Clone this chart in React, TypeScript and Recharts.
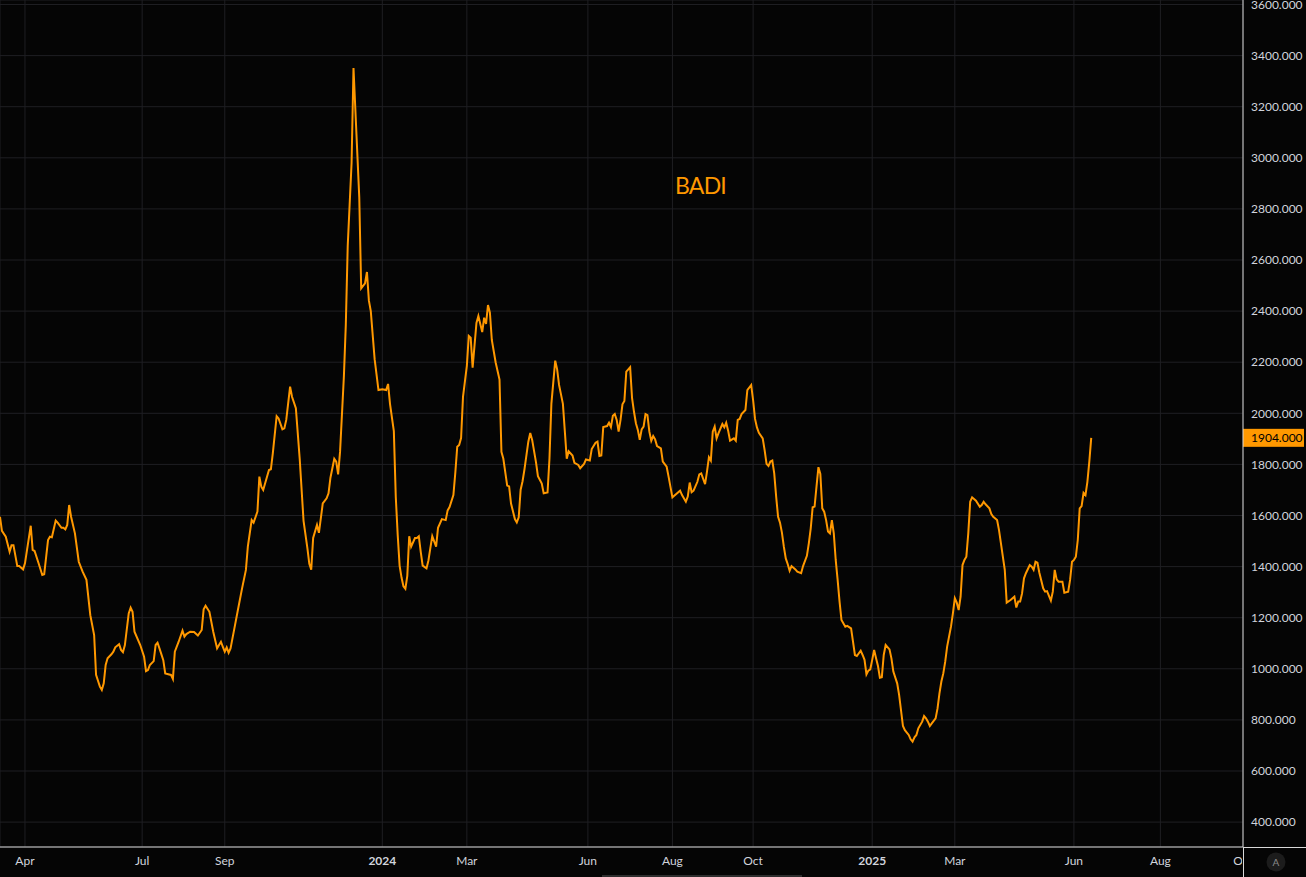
import React from 'react';
import { LineChart, Line, XAxis, YAxis, CartesianGrid, ReferenceLine } from 'recharts';

// trading-day index (0 = left edge of the view) and BDI close
const DAYS = [
  0, 1, 3, 5, 6, 7, 9, 10, 12, 13, 16, 17, 18, 20, 22, 23, 25, 26, 27, 29, 30, 32, 33, 34, 35, 36, 37, 39,
  41, 43, 45, 47, 49, 50, 52, 53, 54, 55, 56, 58, 59, 60, 62, 63, 64, 65, 67, 68, 69, 70, 73, 75, 76, 77,
  78, 80, 81, 82, 83, 85, 86, 89, 90, 91, 93, 95, 96, 97, 99, 101, 103, 105, 106, 107, 109, 111, 113, 115,
  116, 117, 118, 119, 120, 122, 124, 126, 128, 129, 131, 132, 134, 135, 136, 137, 140, 141, 142, 144, 145,
  147, 148, 149, 151, 152, 154, 156, 158, 160, 161, 162, 163, 165, 166, 168, 170, 171, 172, 174, 175, 176,
  177, 179, 180, 181, 183, 184, 185, 187, 188, 190, 191, 192, 193, 195, 197, 199, 201, 202, 203, 205, 206,
  207, 208, 209, 210, 211, 212, 213, 214, 216, 217, 218, 219, 220, 222, 223, 224, 225, 227, 228, 230, 232,
  233, 234, 236, 237, 238, 239, 240, 241, 243, 244, 245, 246, 247, 248, 249, 251, 252, 253, 254, 255, 256,
  258, 260, 261, 262, 264, 265, 266, 268, 269, 270, 271, 272, 273, 275, 276, 277, 279, 280, 282, 283, 285,
  286, 287, 289, 290, 291, 293, 294, 295, 296, 298, 299, 301, 302, 304, 305, 307, 308, 310, 311, 312, 313,
  314, 316, 317, 318, 319, 320, 321, 322, 323, 324, 325, 326, 328, 329, 330, 331, 332, 333, 334, 335, 336,
  337, 338, 339, 340, 341, 342, 344, 345, 347, 348, 350, 352, 354, 355, 357, 358, 359, 360, 361, 363, 364,
  365, 367, 368, 369, 370, 371, 372, 373, 374, 376, 377, 378, 379, 380, 382, 383, 384, 385, 386, 388, 389,
  391, 392, 393, 394, 395, 397, 398, 399, 400, 401, 402, 403, 404, 405, 406, 407, 408, 409, 410, 411, 412,
  414, 415, 417, 418, 420, 421, 422, 423, 424, 425, 426, 427, 428, 429, 430, 431, 432, 433, 434, 435, 436,
  437, 438, 440, 441, 443, 444, 445, 446, 448, 449, 450, 451, 452, 453, 454, 455, 456, 457, 458, 459, 460,
  461, 463, 464, 465, 467, 468, 470, 471, 473, 474, 475, 476, 477, 478, 480, 481, 482, 483, 484, 485, 487,
  488, 489, 490, 491, 492, 493, 495, 496, 497, 498, 499, 500, 501, 502, 503, 504, 505, 506, 508, 510, 511,
  512, 513, 515, 516, 517, 519, 520, 521, 523, 524, 526, 528, 529, 530, 531, 532, 533, 534, 536, 537, 538,
  539, 540, 541, 543, 544, 545, 547, 548, 549, 550, 551, 552, 553, 554, 556, 557, 558, 559, 560, 561, 562,
  563, 564, 565, 566, 567, 568,
];

const BADI = [
  1595, 1540, 1517, 1458, 1484, 1484, 1402, 1402, 1389, 1413, 1560, 1465, 1461, 1415, 1367, 1370, 1504, 1517, 1515, 1580, 1572, 1552, 1552, 1546, 1563, 1641, 1595, 1530,
  1419, 1380, 1348, 1210, 1132, 976, 930, 917, 943, 1015, 1041, 1057, 1067, 1084, 1096, 1074, 1065, 1093, 1217, 1239, 1223, 1145, 1093, 1047, 991, 995,
  1015, 1030, 1093, 1102, 1080, 1034, 982, 976, 960, 1067, 1106, 1149, 1126, 1136, 1145, 1144, 1130, 1152, 1233, 1247, 1223, 1145, 1080, 1106,
  1086, 1067, 1084, 1063, 1080, 1158, 1237, 1315, 1387, 1478, 1582, 1572, 1615, 1752, 1713, 1700, 1778, 1781, 1843, 1989, 1980,
  1937, 1941, 1974, 2104, 2065, 2020, 1822, 1579, 1472, 1411, 1388, 1512, 1563, 1532, 1647, 1667, 1687, 1748, 1822, 1811, 1761,
  1849, 2145, 2347, 2657, 2980, 3351, 3183, 2846, 2489, 2509, 2553, 2442, 2400, 2212, 2091, 2094, 2091, 2115, 2037, 1930, 1674,
  1525, 1404, 1357, 1323, 1313, 1364, 1519, 1478, 1512, 1512, 1519, 1458, 1404, 1393, 1424, 1472, 1519, 1478, 1552, 1586, 1582,
  1620, 1633, 1680, 1768, 1869, 1876, 1903, 2064, 2186, 2303, 2296, 2179, 2266, 2354, 2381, 2318, 2374, 2350, 2424, 2394, 2287,
  2199, 2132, 1849, 1822, 1717, 1714, 1647, 1586, 1573, 1593, 1701, 1734, 1781, 1889, 1923, 1896, 1808, 1754, 1725, 1687, 1690,
  1822, 2037, 2206, 2172, 2111, 2037, 1930, 1822, 1851, 1835, 1806, 1798, 1785, 1802, 1819, 1815, 1860, 1885, 1889, 1833, 1835,
  1946, 1950, 1963, 1946, 1990, 1997, 1974, 1928, 1974, 2035, 2048, 2163, 2180, 2059, 2006, 1961, 1935, 1896, 1937, 1948, 1997,
  1993, 1928, 1892, 1911, 1898, 1872, 1863, 1811, 1791, 1752, 1671, 1684, 1697, 1680, 1654, 1674, 1729, 1691, 1697, 1732, 1761,
  1765, 1723, 1772, 1828, 1815, 1928, 1948, 1902, 1922, 1958, 1945, 1963, 1932, 1893, 1902, 1893, 1974, 1978, 1997, 2013, 2091,
  2111, 2052, 1978, 1945, 1924, 1902, 1856, 1802, 1794, 1811, 1815, 1765, 1674, 1595, 1572, 1533, 1478, 1432, 1410, 1384, 1402,
  1389, 1380, 1374, 1402, 1442, 1491, 1550, 1632, 1635, 1713, 1789, 1763, 1628, 1615, 1582, 1537, 1530, 1582, 1530, 1426, 1348,
  1263, 1191, 1165, 1168, 1158, 1106, 1054, 1050, 1071, 1054, 1035, 978, 993, 998, 1035, 1074, 1041, 1011, 965, 967, 1054,
  1093, 1076, 1041, 989, 943, 898, 776, 760, 741, 724, 715, 732, 741, 767, 793, 815, 806, 793, 776, 786, 806,
  845, 904, 950, 982, 1028, 1087, 1165, 1217, 1276, 1259, 1230, 1282, 1406, 1426, 1439, 1530, 1654, 1671, 1658, 1634, 1641,
  1654, 1644, 1628, 1606, 1595, 1582, 1543, 1491, 1387, 1259, 1269, 1282, 1240, 1263, 1263, 1295, 1354, 1374, 1406, 1400, 1387,
  1419, 1415, 1376, 1315, 1302, 1304, 1267, 1302, 1387, 1350, 1341, 1341, 1341, 1298, 1302, 1348, 1419, 1426, 1439, 1504, 1628,
  1637, 1689, 1680, 1732, 1811, 1904,
];

const TICK_DAYS = [13, 74, 117, 199, 243, 306, 350, 392, 454, 497, 559, 604, 647];
const TICK_LABELS = ['Apr', 'Jul', 'Sep', '2024', 'Mar', 'Jun', 'Aug', 'Oct', '2025', 'Mar', 'Jun', 'Aug', 'Oct'];
const Y_TICKS = [400, 600, 800, 1000, 1200, 1400, 1600, 1800, 2000, 2200, 2400, 2600, 2800, 3000, 3200, 3400, 3600];
const LAST_CLOSE = BADI[BADI.length - 1];

const ORANGE = '#ff9800';
const TEXT = '#d1d4dc';
const FONT = 'Lato, "Open Sans", sans-serif';

const data = DAYS.map((day, i) => ({ day, value: BADI[i] }));

const XTick = (props: any) => {
  const { x, y, payload, index } = props;
  const label = TICK_LABELS[TICK_DAYS.indexOf(payload.value)];
  const isYear = /^\d{4}$/.test(label);
  return (
    <g>
      <defs>
        <clipPath id={`xclip${index}`}>
          <rect x={0} y={y - 10} width={1242} height={40} />
        </clipPath>
      </defs>
      <text
        x={x}
        y={y}
        dy="0.71em"
        textAnchor="middle"
        fill={TEXT}
        fontSize={12}
        fontFamily={FONT}
        fontWeight={isYear ? 700 : 400}
        clipPath={`url(#xclip${index})`}
      >
        {label}
      </text>
    </g>
  );
};

const YTick = (props: any) => {
  const { x, y, payload } = props;
  return (
    <text x={x} y={y} dy="0.355em" textAnchor="start" fill={TEXT} fontSize={12} fontFamily={FONT}>
      {payload.value.toFixed(3)}
    </text>
  );
};

const PriceTag = (props: any) => {
  const { viewBox } = props;
  if (!viewBox) return null;
  const x = viewBox.x + viewBox.width;
  const y = viewBox.y;
  return (
    <g>
      <rect x={x} y={y - 9} width={61} height={18} fill={ORANGE} />
      <text x={x + 8} y={y} dy="0.355em" fill="#000" fontSize={12} fontFamily={FONT}>
        {LAST_CLOSE.toFixed(3)}
      </text>
    </g>
  );
};

export default function App() {
  return (
    <div style={{ position: 'absolute', left: 0, top: 0, width: 1306, height: 877, background: '#050505', overflow: 'hidden' }}>
      <LineChart width={1306} height={877} data={data} margin={{ top: 0, right: 0, bottom: 0, left: 0 }}>
        <CartesianGrid stroke="#1f1f23" strokeWidth={1} />
        <XAxis
          dataKey="day"
          type="number"
          domain={[0, 647]}
          ticks={TICK_DAYS}
          allowDataOverflow
          height={30}
          tickLine={false}
          tickSize={0}
          tickMargin={9}
          axisLine={{ stroke: '#d9d9d9' }}
          tick={<XTick />}
          interval={0}
        />
        <YAxis
          orientation="right"
          type="number"
          domain={[302.5, 3617.7]}
          ticks={Y_TICKS}
          allowDataOverflow
          width={63}
          tickLine={false}
          tickSize={0}
          tickMargin={8}
          axisLine={{ stroke: '#d9d9d9' }}
          tick={<YTick />}
          interval={0}
        />
        <ReferenceLine y={LAST_CLOSE} stroke="none" ifOverflow="visible" label={<PriceTag />} />
        <Line
          type="linear"
          dataKey="value"
          stroke={ORANGE}
          strokeWidth={2}
          dot={false}
          activeDot={false}
          isAnimationActive={false}
        />
      </LineChart>
      <div style={{ position: 'absolute', left: 1243, top: 847, width: 63, height: 1, background: '#d9d9d9' }} />
      <div style={{ position: 'absolute', left: 1243, top: 847, width: 1, height: 30, background: '#d9d9d9' }} />
      <div style={{ position: 'absolute', left: 602, top: 875, width: 200, height: 2, background: '#2e2e2e' }} />
      <svg style={{ position: 'absolute', left: 0, top: 0, pointerEvents: 'none' }} width={1306} height={877}>
        <text x={700.5} y={194} textAnchor="middle" fill={ORANGE} fontSize={23} letterSpacing={-0.8} fontFamily={FONT}>
          BADI
        </text>
        <circle cx={1276} cy={862} r={9.5} fill="#1c1c1c" />
        <text x={1276} y={862} dy="0.355em" textAnchor="middle" fill="#8a8a8a" fontSize={10} fontFamily={FONT}>
          A
        </text>
      </svg>
    </div>
  );
}
